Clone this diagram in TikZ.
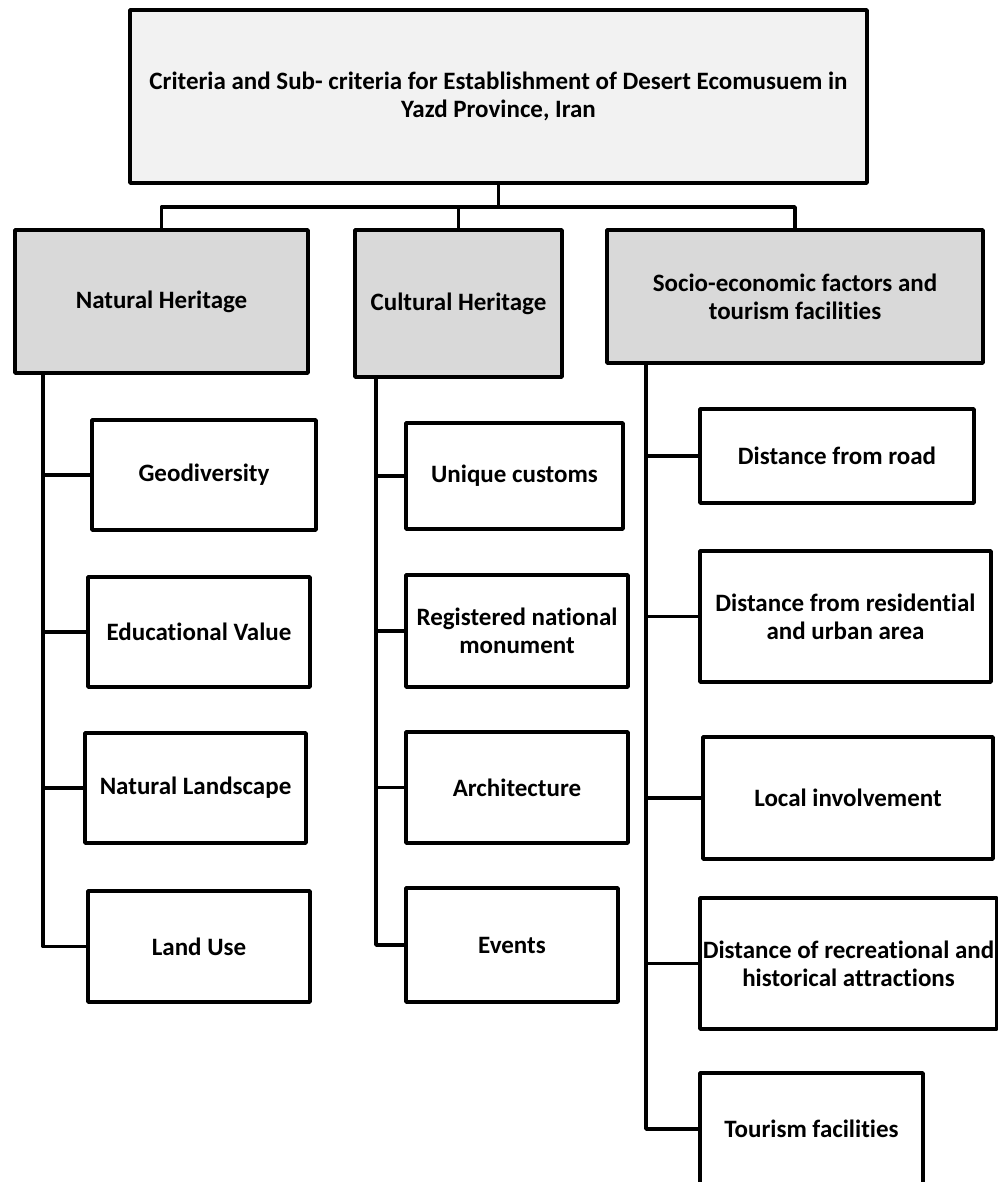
\documentclass[tikz,border=0pt]{standalone}
\usepackage{fontspec}
\setmainfont{Carlito}[Ligatures=NoCommon]
\usepackage{tikz}
\usetikzlibrary{positioning}
\tikzstyle{box}=[rectangle, draw=black, line width=3.5pt, line join=round, align=center, inner sep=1pt, font=\bfseries\fontsize{25}{28}\selectfont]
\tikzstyle{goal}=[box, fill=black!5]
\tikzstyle{criterion}=[box, fill=black!15]
\tikzstyle{subcriterion}=[box, fill=white]
\tikzstyle{link}=[draw=black, line width=3.5pt, line join=round]

\begin{document}
\begin{tikzpicture}[x=1pt, y=-1pt]
      \useasboundingbox (0,0) rectangle (997,1182);
      \node[goal] (top) at (498.5,96.5) [minimum width=737pt, minimum height=173pt] {Criteria and Sub- criteria for Establishment of Desert Ecomusuem in\\Yazd Province, Iran};
      \node[criterion] (nat) at (161.5,301.5) [minimum width=293pt, minimum height=143pt] {Natural Heritage};
      \node[criterion] (cul) at (458.5,303.5) [minimum width=207pt, minimum height=147pt] {Cultural Heritage};
      \node[criterion] (soc) at (795,296.5) [minimum width=376pt, minimum height=133pt] {Socio-economic factors and\\tourism facilities};

      \node[subcriterion] (geo) at (204,475) [minimum width=224pt, minimum height=110pt] {Geodiversity};
      \node[subcriterion] (edu) at (199,632) [minimum width=222pt, minimum height=110pt] {Educational Value};
      \node[subcriterion] (landsc) at (195.5,788) [minimum width=221pt, minimum height=110pt] {Natural Landscape};
      \node[subcriterion] (landuse) at (199,946.5) [minimum width=222pt, minimum height=111pt] {Land Use};

      \node[subcriterion] (customs) at (514.5,476) [minimum width=217pt, minimum height=106pt] {Unique customs};
      \node[subcriterion] (monument) at (517,631) [minimum width=222pt, minimum height=112pt] {Registered national\\monument};
      \node[subcriterion] (arch) at (517,787.5) [minimum width=222pt, minimum height=111pt] {Architecture};
      \node[subcriterion] (events) at (512,945) [minimum width=212pt, minimum height=114pt] {Events};

      \node[subcriterion] (road) at (837,456) [minimum width=274pt, minimum height=94pt] {Distance from road};
      \node[subcriterion] (urban) at (845.5,616.5) [minimum width=291pt, minimum height=131pt] {Distance from residential\\and urban area};
      \node[subcriterion] (local) at (848,798) [minimum width=290pt, minimum height=122pt] {Local involvement};
      \node[subcriterion] (attract) at (848.5,963.5) [minimum width=297pt, minimum height=131pt] {Distance of recreational and\\historical attractions};
      \node[subcriterion] (tourism) at (811.5,1129) [minimum width=223pt, minimum height=112pt] {Tourism facilities};

      \coordinate (bar) at (0,207);
      \draw[link] (top.south) -- (top.south |- bar);
      \draw[link] (nat.north) |- (bar -| soc.north) -- (soc.north);
      \draw[link] (cul.north) -- (cul.north |- bar);

      \coordinate (nline) at (43,373);
      \coordinate (cline) at (376,377);
      \coordinate (sline) at (646,363);
      \draw[link] (nline) |- (landuse.west);
      \draw[link] (cline) |- (events.west);
      \draw[link] (sline) |- (tourism.west);
      \foreach \s in {geo, edu, landsc}
            \draw[link] (\s.west) -- (\s.west -| nline);
      \foreach \s in {customs, monument, arch}
            \draw[link] (\s.west) -- (\s.west -| cline);
      \foreach \s in {road, urban, local, attract}
            \draw[link] (\s.west) -- (\s.west -| sline);
\end{tikzpicture}
\end{document}
